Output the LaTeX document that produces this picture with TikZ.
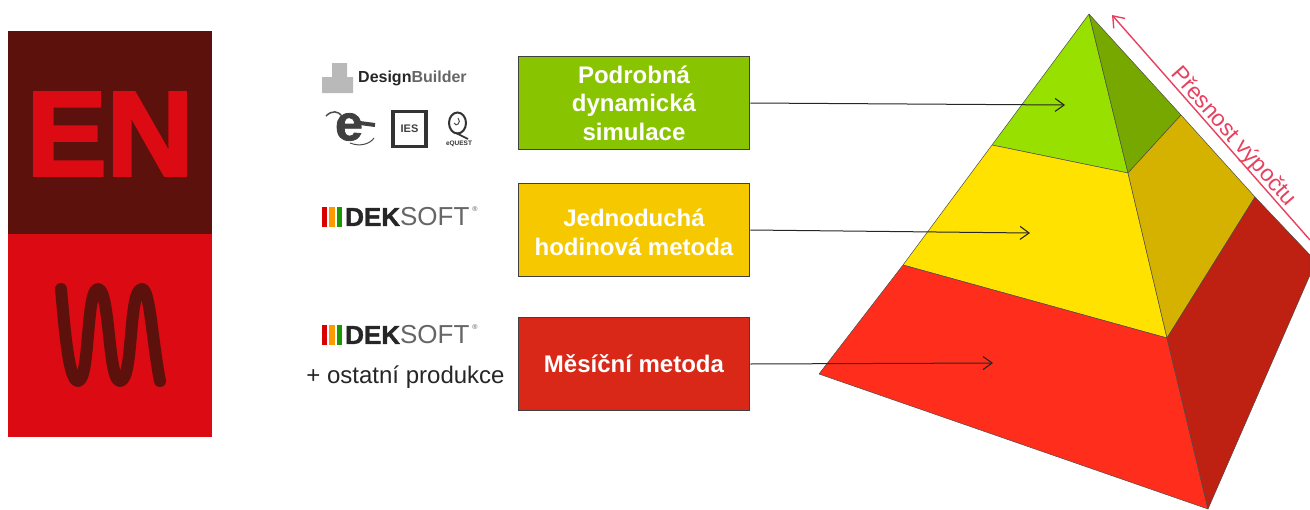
\documentclass[tikz,border=0pt]{standalone}
\usepackage{fontspec}
\setmainfont{Liberation Sans}
\newfontface\enface{Liberation Sans Bold}[FakeBold=2.6]
\newfontface\dekface{Liberation Sans Bold}[FakeBold=1.6]
\usetikzlibrary{arrows.meta}
\definecolor{enred}{HTML}{DC0A12}
\definecolor{endark}{HTML}{5C110C}
\definecolor{acc}{HTML}{E8415F}
\tikzset{
  box/.style={draw=black!75,line width=1.5pt,minimum width=231pt,minimum height=93pt,inner sep=2pt,align=center,text=white,font=\fontsize{24}{28.5}\selectfont\bfseries},
  link/.style={draw=black!85,line width=1pt,-{Straight Barb[length=9pt,width=13pt,line width=1.1pt]}},
  face/.style={draw=black!40!gray,line width=0.5pt,line join=round},
  logotext/.style={inner sep=0pt,anchor=west,text=black!85},
  barstyle/.style={line width=5pt}
}
\newcommand{\deksoftmark}[2]{%
  \draw[barstyle,draw=red!85!black] (#1+3,#2-10) -- (#1+3,#2+10);
  \draw[barstyle,line width=6pt,draw=orange!80!yellow] (#1+10.5,#2-10) -- (#1+10.5,#2+10);
  \draw[barstyle,draw=green!55!black!90!yellow] (#1+18,#2-10) -- (#1+18,#2+10);
}
\begin{document}
\begin{tikzpicture}[x=1pt,y=-1pt]
\useasboundingbox (0,0) rectangle (1310,509);
% left banner
\fill[endark] (8,31) rectangle (212,234);
\fill[enred] (8,234) rectangle (212,437);
\node[inner sep=0pt,text=enred,font=\fontsize{120}{120}\selectfont\enface] (en) at (110,134) {EN};
\draw[endark,line width=12pt,line cap=round,line join=round]
  (61,289) .. controls (64,320) and (68,381) .. (78,381) .. controls (90,381) and (86,289) .. (98,289)
  .. controls (110,289) and (108,381) .. (120,381) .. controls (134,381) and (128,289) .. (142,289)
  .. controls (150,289) and (152,340) .. (160,381);
% logos
\fill[gray!55] (322,77) -- (322,93) -- (353,93) -- (353,77) -- (347,77) -- (347,63) -- (332,63) -- (332,77) -- cycle;
\node[logotext,font=\fontsize{16}{16}\selectfont] (db) at (358,78) {\textbf{Design}\textcolor{black!60}{\textbf{Builder}}};
\node[inner sep=0pt,text=black!75,font=\fontsize{50}{50}\selectfont\dekface\itshape] (ep) at (349,127) {e};
\draw[black!70,line width=1.5pt] (326,116) .. controls (332,110) and (338,111) .. (342,116);
\draw[black!75,line width=4pt] (360,123) -- (375,125);
\draw[black!70,line width=1pt] (350,143) .. controls (360,147) and (370,144) .. (374,138);
\node[draw=black!80,line width=3.5pt,minimum width=33pt,minimum height=35pt,inner sep=0pt,font=\fontsize{11}{11}\selectfont\bfseries,text=black!75] (ies) at (409.5,129) {IES};
\draw[black!80,line width=2pt] (457.5,123) ellipse[x radius=8.5,y radius=10.5];
\draw[black!70,line width=1pt] (458,118) .. controls (462,122) and (456,128) .. (454,123);
\draw[black!80,line width=1.6pt] (456,133) -- (468,139);
\node[inner sep=0pt,font=\fontsize{6.5}{6.5}\selectfont\bfseries,text=black!80] (eq) at (459,144) {eQUEST};
\deksoftmark{321}{217}
\node[logotext,font=\fontsize{26}{26}\selectfont] (d1) at (345,217) {{\dekface DEK}\textcolor{black!60}{SOFT}};
\node[inner sep=0pt,font=\fontsize{7}{7}\selectfont,text=black!65] (r1) at (475,209) {®};
\deksoftmark{321}{335}
\node[logotext,font=\fontsize{26}{26}\selectfont] (d2) at (345,335) {{\dekface DEK}\textcolor{black!60}{SOFT}};
\node[inner sep=0pt,font=\fontsize{7}{7}\selectfont,text=black!65] (r2) at (475,327) {®};
\node[inner sep=0pt,font=\fontsize{24}{24}\selectfont,text=black!85] (ost) at (405.5,377) {+ ostatní produkce};
% boxes
\node[box,fill={rgb,255:red,137;green,196;blue,0}] (b1) at (634,103) {Podrobná\\dynamická\\simulace};
\node[box,fill={rgb,255:red,245;green,200;blue,0}] (b2) at (634,230) {\rule{0pt}{22pt}Jednoduchá\\hodinová metoda};
\node[box,fill={rgb,255:red,217;green,40;blue,24}] (b3) at (634,364) {Měsíční metoda};
% pyramid
\coordinate (apex) at (1089,14);
\coordinate (gl) at (992,145);
\coordinate (gf) at (1128,173);
\coordinate (gr) at (1181,115);
\coordinate (yl) at (903,265);
\coordinate (yf) at (1167,338);
\coordinate (yr) at (1255,197);
\coordinate (rl) at (819,374);
\coordinate (rf) at (1208,509);
\coordinate (rr) at (1310,255);
\coordinate (rq) at (1310,275);
\filldraw[face,fill={rgb,255:red,152;green,224;blue,0}] (apex) -- (gf) -- (gl) -- cycle;
\filldraw[face,fill={rgb,255:red,118;green,168;blue,0}] (apex) -- (gr) -- (gf) -- cycle;
\filldraw[face,fill={rgb,255:red,255;green,226;blue,0}] (gl) -- (gf) -- (yf) -- (yl) -- cycle;
\filldraw[face,fill={rgb,255:red,214;green,178;blue,0}] (gf) -- (gr) -- (yr) -- (yf) -- cycle;
\filldraw[face,fill={rgb,255:red,255;green,46;blue,28}] (yl) -- (yf) -- (rf) -- (rl) -- cycle;
\filldraw[face,fill={rgb,255:red,190;green,32;blue,18}] (yf) -- (yr) -- (rr) -- (rq) -- (rf) -- cycle;
% connectors
\coordinate (t1) at (1065,105);
\coordinate (t2) at (1030,233);
\coordinate (t3) at (993,363);
\draw[link] (b1.east) -- (t1);
\draw[link] (b2.east) -- (t2);
\draw[link] (b3.east) -- (t3);
% accuracy arrow
\coordinate (a1) at (1310,240);
\coordinate (a2) at (1112,15);
\draw[draw=acc,line width=1.4pt,-{Straight Barb[length=10pt,width=15pt,line width=1.4pt]}] (a1) -- (a2);
\node[inner sep=0pt,rotate=-48.5,text=acc,font=\fontsize{23}{23}\selectfont] (pv) at (1233,137) {Přesnost výpočtu};
\end{tikzpicture}
\end{document}
